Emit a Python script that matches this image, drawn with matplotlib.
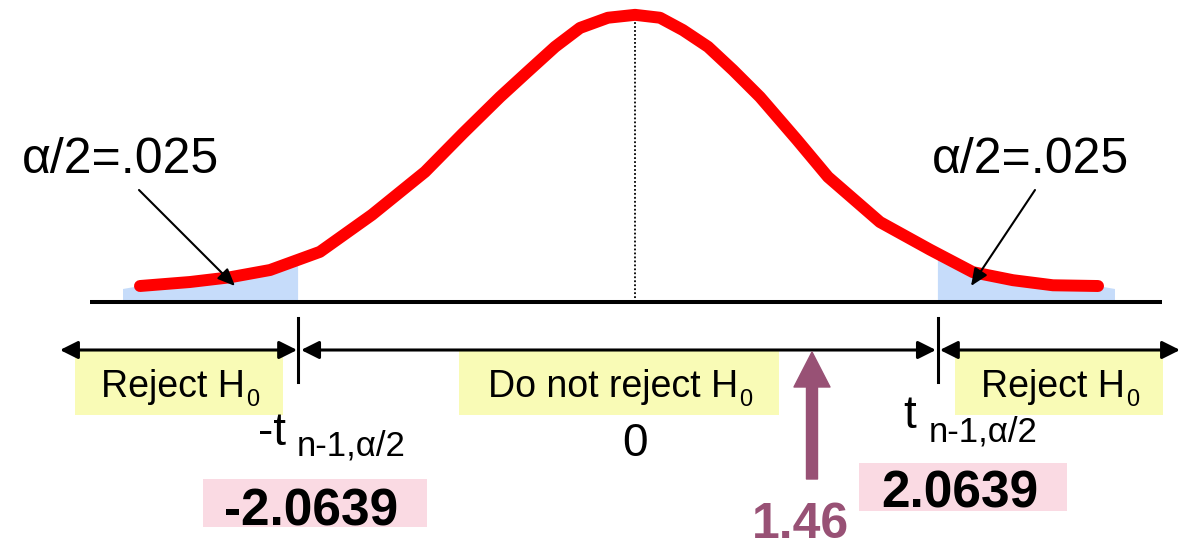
import numpy as np
import matplotlib
matplotlib.use("Agg")
import matplotlib.pyplot as plt
from matplotlib.patches import Rectangle, Polygon

plt.rcParams['font.family'] = ['Liberation Sans', 'DejaVu Sans']

# ---------------- data ----------------
t_values = [-3.084, -2.761, -2.503, -2.245, -1.923, -1.587, -1.245, -1.000,
            -0.761, -0.587, -0.406, -0.245, -0.065, 0.110, 0.271, 0.419,
            0.581, 0.742, 0.916, 1.155, 1.355, 1.690, 2.013, 2.290,
            2.548, 2.806, 3.097]
density_values = [0.022, 0.0275, 0.034, 0.044, 0.069, 0.120, 0.179, 0.232,
                  0.282, 0.316, 0.351, 0.377, 0.391, 0.395, 0.391, 0.374,
                  0.351, 0.319, 0.282, 0.223, 0.172, 0.110, 0.072, 0.041,
                  0.030, 0.023, 0.022]
crit_values = [-2.0639, 2.0639]
crit_labels = ["-2.0639", "2.0639"]
test_stat_label = "1.46"
alpha_label = "\u03b1/2=.025"
region_labels = ["Reject H", "Do not reject H", "Reject H"]
region_subs = ["0", "0", "0"]
center_label = "0"
t_sub = "n-1,\u03b1/2"

# ---------------- layout helpers (pixel -> data) ----------------
SX, X0 = 155.0, 618.0
SY, Y0 = 727.0, 302.0
def X(px):
    return (px - X0) / SX
def Y(py):
    return (Y0 - py) / SY

RED = '#FF0000'
BLUE = '#C6DCFA'
YELLOW = '#F9FBB6'
PINK = '#FADAE3'
PURPLE = '#985175'

fig = plt.figure(figsize=(11.83, 5.49), dpi=100)
ax = fig.add_axes([0, 0, 1, 1])
ax.set_xlim(X(0), X(1183))
ax.set_ylim(Y(549), Y(0))
ax.axis('off')
renderer = fig.canvas.get_renderer()

t = np.array(t_values)
d = np.array(density_values)

# shaded tails
tail_edges = [X(123), X(1115)]
cl, cr = crit_values
lm = t < cl
left_poly = ([(tail_edges[0], 0), (tail_edges[0], Y(289))] +
             list(zip(t[lm], d[lm])) +
             [(cl, np.interp(cl, t, d)), (cl, 0)])
rm = t > cr
right_poly = ([(cr, 0), (cr, np.interp(cr, t, d))] +
              list(zip(t[rm], d[rm])) +
              [(tail_edges[1], Y(289)), (tail_edges[1], 0)])
for poly in (left_poly, right_poly):
    ax.add_patch(Polygon(poly, closed=True, facecolor=BLUE, edgecolor='none', zorder=1))

# baseline
ax.plot([X(90), X(1162)], [0, 0], color='black', lw=2.9, zorder=2, solid_capstyle='butt')

# dotted centre line at the peak
ip = int(np.argmax(d))
ax.plot([t[ip], t[ip]], [0, d[ip]], color='black', lw=1.3, dashes=(1, 1.2), zorder=2)

# curve
ax.plot(t, d, color=RED, lw=8.6, solid_capstyle='round', solid_joinstyle='round', zorder=3)

# alpha labels and arrows
for cx, (x0, y0), (x1, y1) in [(120, (139, 190), (235, 286)),
                               (1031, (1035, 190), (971, 286))]:
    ax.text(X(cx), Y(173), alpha_label, fontsize=36, ha='center', va='baseline')
    ax.annotate('', xy=(X(x1), Y(y1)), xytext=(X(x0), Y(y0)),
                arrowprops=dict(arrowstyle='-|>,head_length=0.7,head_width=0.3',
                                lw=1.5, color='black', shrinkA=0, shrinkB=0,
                                mutation_scale=15), zorder=4)


def text_with_sub(cx_px, base_px, main, sub, size, subsize, drop_px, gap_px=1.5):
    t1 = ax.text(0, 0, main, fontsize=size, ha='left', va='baseline', zorder=5)
    t2 = ax.text(0, 0, sub, fontsize=subsize, ha='left', va='baseline', zorder=5)
    w1 = t1.get_window_extent(renderer).width
    w2 = t2.get_window_extent(renderer).width
    left = cx_px - (w1 + gap_px + w2) / 2.0
    t1.set_position((X(left), Y(base_px)))
    t2.set_position((X(left + w1 + gap_px), Y(base_px + drop_px)))


# region boxes
boxes = [(75, 283), (459, 779), (955, 1163)]
text_cx = [180, 620, 1060]
for (xa, xb), lab, sub, cx in zip(boxes, region_labels, region_subs, text_cx):
    ax.add_patch(Rectangle((X(xa), Y(415)), X(xb) - X(xa), Y(351) - Y(415),
                           facecolor=YELLOW, edgecolor='none', zorder=1))
    text_with_sub(cx, 397, lab, sub, 27, 17, 9)

# region arrows
ya = Y(350)
aprops = dict(arrowstyle='<|-|>,head_length=0.6,head_width=0.3', lw=2.2,
              color='black', shrinkA=0, shrinkB=0, mutation_scale=18)
ax.annotate('', xy=(X(60), ya), xytext=(cl - 1 / SX, ya), arrowprops=aprops, zorder=4)
ax.annotate('', xy=(cl + 3 / SX, ya), xytext=(cr - 2 / SX, ya), arrowprops=aprops, zorder=4)
ax.annotate('', xy=(cr + 2 / SX, ya), xytext=(X(1180), ya), arrowprops=aprops, zorder=4)

# critical ticks
for c in crit_values:
    ax.plot([c, c], [Y(318), Y(382)], color='black', lw=2.2, zorder=4)

# t labels
ax.text(X(286), Y(445), '-t', fontsize=33, ha='right', va='baseline')
ax.text(X(297), Y(456), t_sub, fontsize=25, ha='left', va='baseline')
ax.text(X(916), Y(428), 't', fontsize=33, ha='right', va='baseline')
ax.text(X(929), Y(442), t_sub, fontsize=25, ha='left', va='baseline')

# centre label
ax.text(t[ip], Y(456), center_label, fontsize=33, ha='center', va='baseline')

# critical value boxes
for (xa, xb, ya_, yb_), lab, cx, by in zip([(203, 427, 479, 527), (859, 1067, 463, 511)],
                                          crit_labels, [311, 960], [525, 508]):
    ax.add_patch(Rectangle((X(xa), Y(yb_)), X(xb) - X(xa), Y(ya_) - Y(yb_),
                           facecolor=PINK, edgecolor='none', zorder=1))
    ax.text(X(cx), Y(by), lab, fontsize=37, fontweight='bold', ha='center',
            va='baseline', zorder=5)

# test statistic arrow and label
ms = 10.0
px_per_unit = ms * 100 / 72.0
ax.annotate('', xy=(X(812), Y(352)), xytext=(X(812), Y(479)),
            arrowprops=dict(arrowstyle='simple,head_length=%.3f,head_width=%.3f,tail_width=%.3f'
                            % (35 / px_per_unit, 36 / px_per_unit, 11 / px_per_unit),
                            color=PURPLE, shrinkA=0, shrinkB=0, mutation_scale=ms), zorder=5)
ax.text(X(800), Y(538), test_stat_label, fontsize=36, fontweight='bold', color=PURPLE,
        ha='center', va='baseline')

fig.savefig('out.png', dpi=100)
